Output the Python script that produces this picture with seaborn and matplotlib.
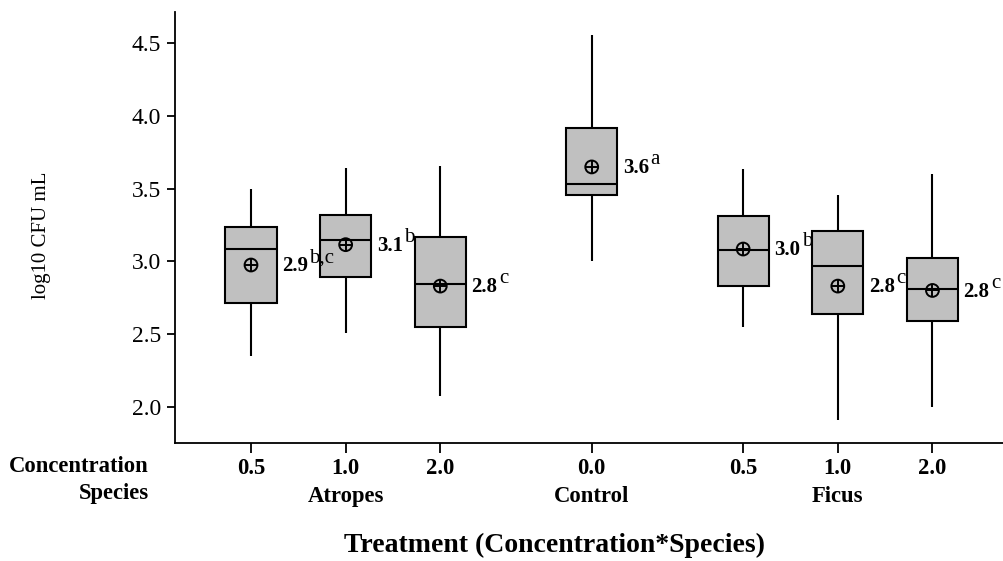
import numpy as np
import pandas as pd
import matplotlib
matplotlib.use("Agg")
import matplotlib.pyplot as plt
import seaborn as sns

# ---- data ----
species = ["Atropes", "Atropes", "Atropes", "Control", "Ficus", "Ficus", "Ficus"]
concentration = ["0.5", "1.0", "2.0", "0.0", "0.5", "1.0", "2.0"]
whisker_low = [2.35, 2.51, 2.075, 3.00, 2.55, 1.905, 1.995]
q1 = [2.715, 2.89, 2.545, 3.455, 2.83, 2.64, 2.59]
median = [3.085, 3.15, 2.845, 3.53, 3.075, 2.97, 2.81]
q3 = [3.24, 3.32, 3.17, 3.915, 3.31, 3.21, 3.025]
whisker_high = [3.495, 3.645, 3.655, 4.555, 3.635, 3.46, 3.60]
means = [2.975, 3.115, 2.83, 3.65, 3.085, 2.83, 2.80]
mean_labels = ["2.9", "3.1", "2.8", "3.6", "3.0", "2.8", "2.8"]
letters = ["b,c", "b", "c", "a", "b", "c", "c"]
yticks = [2.0, 2.5, 3.0, 3.5, 4.0, 4.5]

# ---- layout ----
slots = [0, 1, 2, 3.6, 5.2, 6.2, 7.2]
box_w = 0.54

rows = []
for i in range(len(slots)):
    for v in (whisker_low[i], q1[i], median[i], q3[i], whisker_high[i]):
        rows.append({"pos": slots[i], "value": v})
df = pd.DataFrame(rows)

sns.set_theme(style="ticks")
plt.rcParams["font.family"] = ["Liberation Serif", "DejaVu Serif"]
plt.rcParams.update({"text.color": "black", "axes.labelcolor": "black",
                     "xtick.color": "black", "ytick.color": "black",
                     "axes.edgecolor": "black"})

fig = plt.figure(figsize=(10.04, 5.61), dpi=100)
ax = fig.add_axes([0.1743, 0.2103, 0.8257, 0.768])

sns.boxplot(data=df, x="pos", y="value", native_scale=True, width=box_w,
            whis=(0, 100), color="#c0c0c0", saturation=1, linecolor="black",
            linewidth=1.5, showcaps=False, showfliers=False, ax=ax)

ax.scatter(slots, means, marker="o", s=85, facecolors="none",
           edgecolors="black", linewidths=1.4, zorder=5)
ax.scatter(slots, means, marker="+", s=85, color="black",
           linewidths=1.4, zorder=5)

for i in range(len(slots)):
    t = ax.annotate(mean_labels[i], xy=(slots[i] + box_w / 2, means[i]),
                    xytext=(4, -1), textcoords="offset points",
                    ha="left", va="center", fontsize=15, fontweight="bold",
                    color="black")
    ax.annotate(letters[i], xy=(1, 1), xycoords=t, xytext=(1, -1),
                textcoords="offset points", ha="left", va="center",
                fontsize=15, color="black")

ax.set_xlim(-0.803, 7.956)
ax.set_ylim(1.75, 4.715)
ax.set_yticks(yticks)
ax.set_yticklabels([f"{v:.1f}" for v in yticks], fontsize=17)

xlabels = []
for i in range(len(slots)):
    group = [j for j in range(len(slots)) if species[j] == species[i]]
    mid = group[len(group) // 2]
    xlabels.append(concentration[i] + ("\n" + species[i] if i == mid else ""))
ax.set_xticks(slots)
ax.set_xticklabels(xlabels, fontsize=16.3, fontweight="bold", linespacing=1.4)

ax.tick_params(axis="both", direction="out", length=6, width=1.3, color="black",
               labelcolor="black", pad=4)
ax.tick_params(axis="x", length=7, pad=4)
for s in ("top", "right"):
    ax.spines[s].set_visible(False)
for s in ("left", "bottom"):
    ax.spines[s].set_linewidth(1.3)
    ax.spines[s].set_color("black")
ax.set_xlabel("")
ax.set_ylabel("")

fig.text(149 / 1004, 1 - 456 / 561, "Concentration\nSpecies", ha="right", va="top",
         fontsize=16.3, fontweight="bold", linespacing=1.4, multialignment="right",
         color="black")
fig.text(41.7 / 1004, 1 - 235 / 561, "log10 CFU mL", rotation=90,
         ha="center", va="center", fontsize=15, color="black")
fig.text(555 / 1004, 1 - 545 / 561, "Treatment (Concentration*Species)",
         ha="center", va="center", fontsize=20, fontweight="bold", color="black")

fig.savefig("out.png", dpi=100)
